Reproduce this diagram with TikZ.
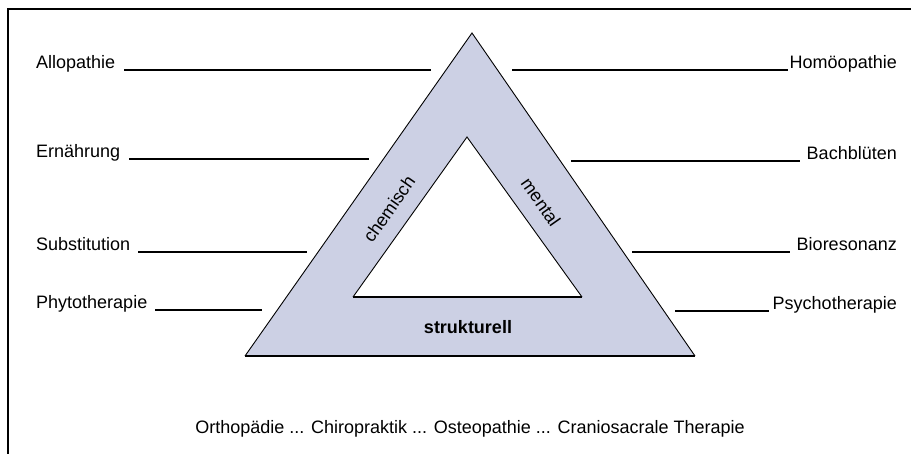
\documentclass[tikz,border=0pt]{standalone}
\usepackage{fontspec}
\setmainfont{Liberation Sans}
\definecolor{band}{RGB}{204,208,228}
\begin{document}
\begin{tikzpicture}[x=1pt,y=-1pt,
  lbl/.style={inner sep=0pt,font=\fontsize{18}{20}\selectfont},
  conn/.style={line width=1.6pt},
  edge/.style={line width=0.9pt},
  basee/.style={line width=2pt}]
\useasboundingbox (0,0) rectangle (911,454);
% frame
\draw[line width=2pt] (8,454) -- (8,9) -- (911,9);
% triangle
\coordinate (A) at (472,33);
\coordinate (B) at (245,356);
\coordinate (C) at (695,356);
\coordinate (a) at (467,137);
\coordinate (b) at (353,297);
\coordinate (c) at (582,297);
\fill[band] (A) -- (B) -- (C) -- cycle;
\fill[white] (a) -- (b) -- (c) -- cycle;
\draw[edge] (B) -- (A) -- (C);
\draw[basee] (B) -- (C);
\draw[edge] (b) -- (a) -- (c);
\draw[basee] (b) -- (c);
% band labels
\node[lbl,rotate=55] (chem) at (389,209) {chemisch};
\node[lbl,rotate=-55] (ment) at (541,202) {mental};
\node[lbl,font=\fontsize{18}{20}\selectfont\bfseries] (strk) at (468,327) {strukturell};
% left labels
\node[lbl,anchor=base west] (allo) at (36,69) {Allopathie};
\node[lbl,anchor=base west] (ern) at (36,158) {Ernährung};
\node[lbl,anchor=base west] (sub) at (36,251) {Substitution};
\node[lbl,anchor=base west] (phy) at (36,309) {Phytotherapie};
\coordinate (alloE) at (431,70);
\coordinate (ernE) at (369,159);
\coordinate (subE) at (307,252);
\coordinate (phyE) at (262,310);
\draw[conn] ([xshift=9pt]allo.base east |- alloE) -- (alloE);
\draw[conn] ([xshift=9pt]ern.base east |- ernE) -- (ernE);
\draw[conn] ([xshift=8pt]sub.base east |- subE) -- (subE);
\draw[conn] ([xshift=8pt]phy.base east |- phyE) -- (phyE);
% right labels
\node[lbl,anchor=base east] (hom) at (897,69) {Homöopathie};
\node[lbl,anchor=base east] (bach) at (897,160) {Bachblüten};
\node[lbl,anchor=base east] (bio) at (897,251) {Bioresonanz};
\node[lbl,anchor=base east] (psy) at (897,310) {Psychotherapie};
\coordinate (homE) at (512,70);
\coordinate (bachE) at (571,161);
\coordinate (bioE) at (632,252);
\coordinate (psyE) at (675,311);
\draw[conn] (homE) -- ([xshift=-2pt]hom.base west |- homE);
\draw[conn] (bachE) -- ([xshift=-7pt]bach.base west |- bachE);
\draw[conn] (bioE) -- ([xshift=-7pt]bio.base west |- bioE);
\draw[conn] (psyE) -- ([xshift=-4pt]psy.base west |- psyE);
% bottom
\node[lbl,anchor=base] (bottom) at (470,433) {Orthopädie ... Chiropraktik ... Osteopathie ... Craniosacrale Therapie};
\end{tikzpicture}
\end{document}
